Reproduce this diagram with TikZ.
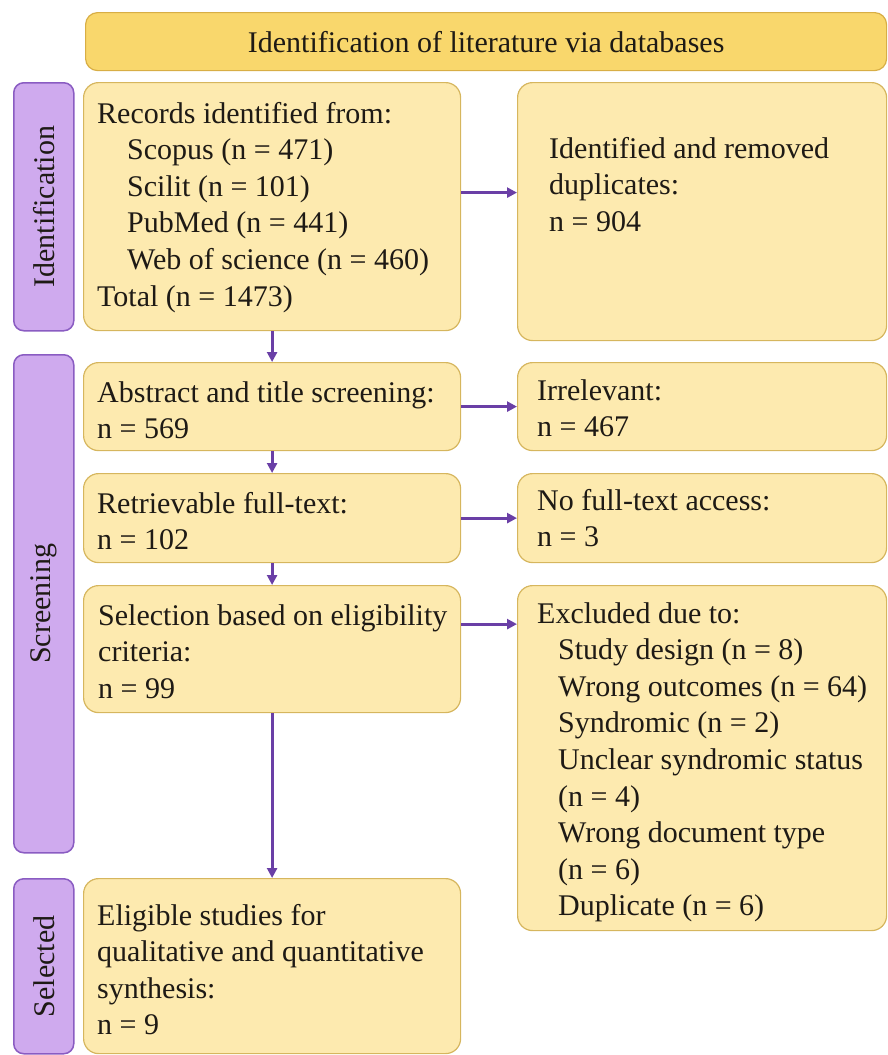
\documentclass[tikz,border=0pt]{standalone}
\usepackage{fontspec}
\setmainfont{Liberation Serif}
\usetikzlibrary{arrows.meta,calc}
\definecolor{boxfill}{HTML}{FDEAAF}
\definecolor{boxline}{HTML}{D6B65E}
\definecolor{headfill}{HTML}{F9D76C}
\definecolor{headline}{HTML}{D8AE45}
\definecolor{sidefill}{HTML}{CFAAEE}
\definecolor{sideline}{HTML}{8A5CC2}
\definecolor{arrowc}{HTML}{6A3FA6}
\definecolor{txt}{HTML}{1E1A15}
\newcommand{\tl}[1]{\begin{tabular}[t]{@{}l@{}}#1\end{tabular}}
\newcommand{\ind}{\hspace*{30pt}}
\begin{document}
\begin{tikzpicture}[x=1pt,y=1pt,
  box/.style={draw=boxline, fill=boxfill, line width=1.2pt, rounded corners=15pt, anchor=north west, inner sep=0pt},
  side/.style={draw=sideline, fill=sidefill, line width=1.5pt, rounded corners=10pt, anchor=north west, inner sep=0pt},
  head/.style={draw=headline, fill=headfill, line width=1.2pt, rounded corners=12pt, anchor=north west, inner sep=0pt},
  fnt/.style={text=txt, font=\fontsize{30}{36.6}\selectfont},
  lbl/.style={fnt, anchor=base west, inner sep=0pt},
  arr/.style={draw=arrowc, line width=3.2pt, -{Triangle[length=10pt,width=10pt]}}]
\useasboundingbox (0,0) rectangle (888,-1055);

% header
\node[head, minimum width=801pt, minimum height=58pt] (header) at (85,-12) {};
\node[fnt] (headtxt) at (header.center) {Identification of literature via databases};

% side boxes
\node[side, minimum width=60pt, minimum height=248pt] (idside) at (13,-82) {};
\node[side, minimum width=60pt, minimum height=498pt] (scrside) at (13,-354) {};
\node[side, minimum width=60pt, minimum height=175pt] (selside) at (13,-878) {};
\node[fnt, rotate=90] (idlbl) at (idside.center) {Identification};
\node[fnt, rotate=90] (scrlbl) at (scrside.center) {Screening};
\node[fnt, rotate=90] (sellbl) at (selside.center) {Selected};

% left boxes
\node[box, minimum width=377pt, minimum height=248pt] (records) at (83,-82) {};
\node[box, minimum width=377pt, minimum height=88pt] (abstract) at (83,-362) {};
\node[box, minimum width=377pt, minimum height=89pt] (retr) at (83,-473) {};
\node[box, minimum width=377pt, minimum height=127pt] (sel) at (83,-585) {};
\node[box, minimum width=377pt, minimum height=175pt] (elig) at (83,-878) {};

% right boxes
\node[box, minimum width=369pt, minimum height=258pt] (dup) at (517,-82) {};
\node[box, minimum width=369pt, minimum height=88pt] (irrel) at (517,-362) {};
\node[box, minimum width=369pt, minimum height=89pt] (nofull) at (517,-473) {};
\node[box, minimum width=369pt, minimum height=345pt] (excl) at (517,-585) {};

% texts
\node[lbl] (recordstxt) at (97,-123) {\tl{Records identified from:\\
\ind Scopus (n = 471)\\
\ind Scilit (n = 101)\\
\ind PubMed (n = 441)\\
\ind Web of science (n = 460)\\
Total (n = 1473)}};
\node[lbl] (abstracttxt) at (97,-402) {\tl{Abstract and title screening:\\ n = 569}};
\node[lbl] (retrtxt) at (97,-513) {\tl{Retrievable full-text:\\ n = 102}};
\node[lbl] (seltxt) at (98,-625) {\tl{Selection based on eligibility\\ criteria:\\ n = 99}};
\node[lbl] (eligtxt) at (97,-925) {\tl{Eligible studies for\\ qualitative and quantitative\\ synthesis:\\ n = 9}};
\node[lbl] (duptxt) at (549,-158) {\tl{Identified and removed\\ duplicates:\\ n = 904}};
\node[lbl] (irreltxt) at (537,-400) {\tl{Irrelevant:\\ n = 467}};
\node[lbl] (nofulltxt) at (537,-510) {\tl{No full-text access:\\ n = 3}};
\node[lbl] (excltxt) at (537,-623) {\tl{Excluded due to:\\
\hspace*{21pt}Study design (n = 8)\\
\hspace*{21pt}Wrong outcomes (n = 64)\\
\hspace*{21pt}Syndromic (n = 2)\\
\hspace*{21pt}Unclear syndromic status\\
\hspace*{21pt}(n = 4)\\
\hspace*{21pt}Wrong document type\\
\hspace*{21pt}(n = 6)\\
\hspace*{21pt}Duplicate (n = 6)}};

% arrows
\draw[arr] (records.south) -- (abstract.north);
\draw[arr] (abstract.south) -- (retr.north);
\draw[arr] (retr.south) -- (sel.north);
\draw[arr] (sel.south) -- (elig.north);
\draw[arr] ([yshift=14pt]records.east) -- ([yshift=14pt]records.east -| dup.west);
\draw[arr] (abstract.east) -- (abstract.east -| irrel.west);
\draw[arr] (retr.east) -- (retr.east -| nofull.west);
\draw[arr] ([yshift=25pt]sel.east) -- ([yshift=25pt]sel.east -| excl.west);
\end{tikzpicture}
\end{document}
